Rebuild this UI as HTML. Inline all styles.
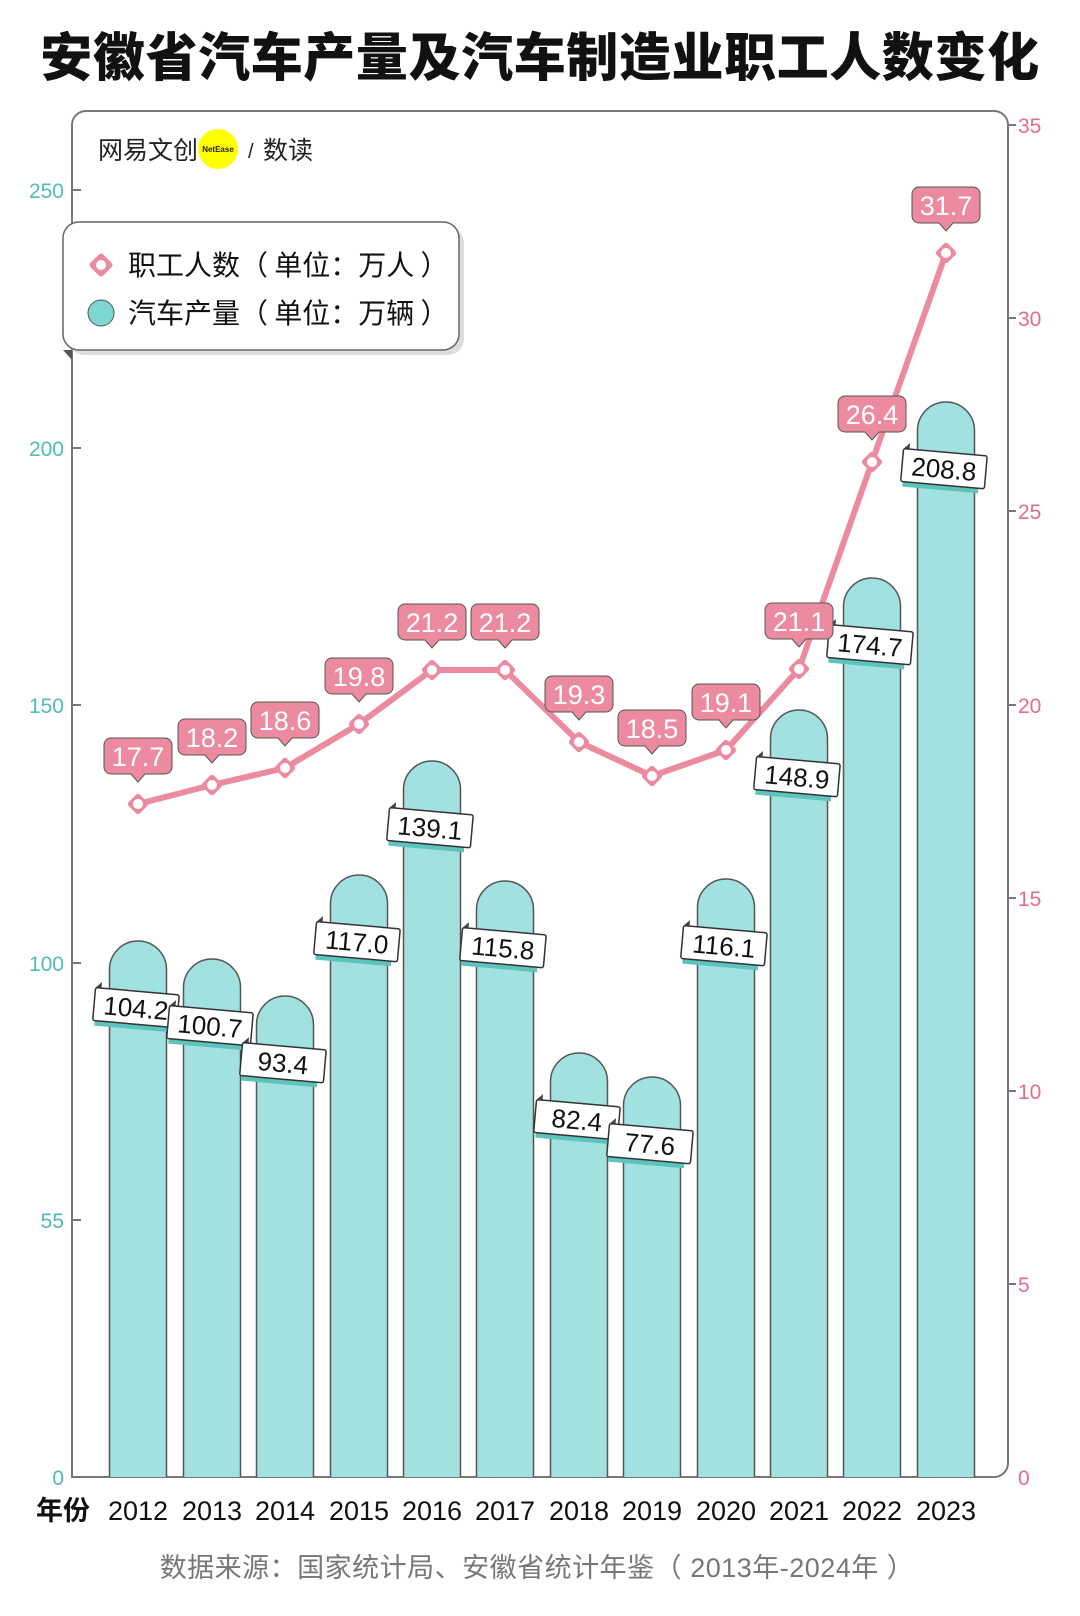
<!DOCTYPE html>
<html><head><meta charset="utf-8"><style>
body{margin:0;background:#fff;}
svg{display:block;font-family:"Liberation Sans","Noto Sans CJK SC",sans-serif;}
</style></head><body>
<svg width="1080" height="1616" viewBox="0 0 1080 1616" xmlns="http://www.w3.org/2000/svg">
<text x="540" y="76" text-anchor="middle" font-size="52" font-weight="900" fill="#111" letter-spacing="0.6" font-family="Noto Sans CJK SC, sans-serif">安徽省汽车产量及汽车制造业职工人数变化</text>
<path d="M72,1477 V125 A14,14 0 0 1 86,111 H994 A14,14 0 0 1 1008,125 V1463 A14,14 0 0 1 994,1477 Z" fill="none" stroke="#777" stroke-width="2"/>
<g stroke="#777" stroke-width="2">
<line x1="72" y1="190" x2="81" y2="190"/><line x1="72" y1="448" x2="81" y2="448"/><line x1="72" y1="705" x2="81" y2="705"/><line x1="72" y1="963" x2="81" y2="963"/><line x1="72" y1="1220" x2="81" y2="1220"/>
<line x1="1008" y1="125" x2="1016" y2="125"/><line x1="1008" y1="318" x2="1016" y2="318"/><line x1="1008" y1="511" x2="1016" y2="511"/><line x1="1008" y1="705" x2="1016" y2="705"/><line x1="1008" y1="898" x2="1016" y2="898"/><line x1="1008" y1="1091" x2="1016" y2="1091"/><line x1="1008" y1="1284" x2="1016" y2="1284"/>
</g>
<g fill="#4dbdb5" font-size="21" text-anchor="end">
<text x="64" y="198">250</text><text x="64" y="456">200</text><text x="64" y="713">150</text><text x="64" y="971">100</text><text x="64" y="1228">55</text><text x="64" y="1485">0</text>
</g>
<g fill="#e46c8b" font-size="21">
<text x="1018" y="133">35</text><text x="1018" y="326">30</text><text x="1018" y="519">25</text><text x="1018" y="713">20</text><text x="1018" y="906">15</text><text x="1018" y="1099">10</text><text x="1018" y="1292">5</text><text x="1018" y="1485">0</text>
</g>
<text x="98" y="159" font-size="25" fill="#222" font-family="Noto Sans CJK SC, sans-serif">网易文创</text>
<circle cx="218" cy="149" r="20" fill="#ffff00"/>
<text x="218" y="152" font-size="8" text-anchor="middle" fill="#222" font-weight="bold">NetEase</text>
<text x="248" y="158" font-size="20" fill="#222">/</text>
<text x="263" y="159" font-size="25" fill="#222" font-family="Noto Sans CJK SC, sans-serif">数读</text>
<g fill="#a1e1df" stroke="#555" stroke-width="1.5">
<path d="M109.5,1477 V969.5 A28.5,28.5 0 0 1 166.5,969.5 V1477"/>
<path d="M183.5,1477 V987.5 A28.5,28.5 0 0 1 240.5,987.5 V1477"/>
<path d="M256.5,1477 V1024.5 A28.5,28.5 0 0 1 313.5,1024.5 V1477"/>
<path d="M330.5,1477 V903.5 A28.5,28.5 0 0 1 387.5,903.5 V1477"/>
<path d="M403.5,1477 V789.5 A28.5,28.5 0 0 1 460.5,789.5 V1477"/>
<path d="M476.5,1477 V909.5 A28.5,28.5 0 0 1 533.5,909.5 V1477"/>
<path d="M550.5,1477 V1081.5 A28.5,28.5 0 0 1 607.5,1081.5 V1477"/>
<path d="M623.5,1477 V1105.5 A28.5,28.5 0 0 1 680.5,1105.5 V1477"/>
<path d="M697.5,1477 V907.5 A28.5,28.5 0 0 1 754.5,907.5 V1477"/>
<path d="M770.5,1477 V738.5 A28.5,28.5 0 0 1 827.5,738.5 V1477"/>
<path d="M843.5,1477 V606.5 A28.5,28.5 0 0 1 900.5,606.5 V1477"/>
<path d="M917.5,1477 V430.5 A28.5,28.5 0 0 1 974.5,430.5 V1477"/>
</g>
<defs>
<g id="bl"><path d="M-40,-16 L-34,-22 L-34,-16 Z" fill="#444"/><rect x="-38" y="16" width="76" height="6" fill="#5cc4bd"/><rect x="-40" y="-16" width="84" height="33" fill="#fff" stroke="#333" stroke-width="1.5" rx="2"/></g>
</defs>
<g font-size="26" text-anchor="middle" fill="#111">
<g transform="translate(134,1007) rotate(5)"><use href="#bl"/><text x="2" y="10">104.2</text></g>
<g transform="translate(208,1025) rotate(5)"><use href="#bl"/><text x="2" y="10">100.7</text></g>
<g transform="translate(281,1062) rotate(5)"><use href="#bl"/><text x="2" y="10">93.4</text></g>
<g transform="translate(355,941) rotate(5)"><use href="#bl"/><text x="2" y="10">117.0</text></g>
<g transform="translate(428,827) rotate(5)"><use href="#bl"/><text x="2" y="10">139.1</text></g>
<g transform="translate(501,947) rotate(5)"><use href="#bl"/><text x="2" y="10">115.8</text></g>
<g transform="translate(575,1119) rotate(5)"><use href="#bl"/><text x="2" y="10">82.4</text></g>
<g transform="translate(648,1143) rotate(5)"><use href="#bl"/><text x="2" y="10">77.6</text></g>
<g transform="translate(722,945) rotate(5)"><use href="#bl"/><text x="2" y="10">116.1</text></g>
<g transform="translate(795,776) rotate(5)"><use href="#bl"/><text x="2" y="10">148.9</text></g>
<g transform="translate(868,644) rotate(5)"><use href="#bl"/><text x="2" y="10">174.7</text></g>
<g transform="translate(942,468) rotate(5)"><use href="#bl"/><text x="2" y="10">208.8</text></g>
</g>
<polyline points="138,804 212,785 285,768 359,724 432,670 505,670 579,742 652,776 726,750 799,669 872,462 946,253" fill="none" stroke="#ec8aa0" stroke-width="6" stroke-linejoin="round"/>
<defs>
<g id="mk"><rect x="-8" y="-8" width="16" height="16" rx="3" fill="#ec8aa0" transform="rotate(45)"/><circle r="5" fill="#fff"/></g>
<g id="pl"><path d="M-27,-66 H27 A7,7 0 0 1 34,-59 V-37 A7,7 0 0 1 27,-30 H7 L0,-22 L-7,-30 H-27 A7,7 0 0 1 -34,-37 V-59 A7,7 0 0 1 -27,-66 Z" fill="#ec8aa0" stroke="#555" stroke-width="1"/></g>
</defs>
<g font-size="27" text-anchor="middle" fill="#fff">
<g transform="translate(138,804)"><use href="#pl"/><use href="#mk"/><text y="-38">17.7</text></g>
<g transform="translate(212,785)"><use href="#pl"/><use href="#mk"/><text y="-38">18.2</text></g>
<g transform="translate(285,768)"><use href="#pl"/><use href="#mk"/><text y="-38">18.6</text></g>
<g transform="translate(359,724)"><use href="#pl"/><use href="#mk"/><text y="-38">19.8</text></g>
<g transform="translate(432,670)"><use href="#pl"/><use href="#mk"/><text y="-38">21.2</text></g>
<g transform="translate(505,670)"><use href="#pl"/><use href="#mk"/><text y="-38">21.2</text></g>
<g transform="translate(579,742)"><use href="#pl"/><use href="#mk"/><text y="-38">19.3</text></g>
<g transform="translate(652,776)"><use href="#pl"/><use href="#mk"/><text y="-38">18.5</text></g>
<g transform="translate(726,750)"><use href="#pl"/><use href="#mk"/><text y="-38">19.1</text></g>
<g transform="translate(799,669)"><use href="#pl"/><use href="#mk"/><text y="-38">21.1</text></g>
<g transform="translate(872,462)"><use href="#pl"/><use href="#mk"/><text y="-38">26.4</text></g>
<g transform="translate(946,253)"><use href="#pl"/><use href="#mk"/><text y="-38">31.7</text></g>
</g>
<rect x="68" y="227" width="396" height="128" rx="16" fill="#ddd"/>
<path d="M63,350 L72,360 L72,350 Z" fill="#555"/>
<rect x="63" y="222" width="396" height="128" rx="16" fill="#fff" stroke="#666" stroke-width="1.5"/>
<g transform="translate(101,265)"><rect x="-9" y="-9" width="18" height="18" rx="3" fill="#ec8aa0" transform="rotate(45)"/><circle r="5" fill="#fff"/></g>
<circle cx="101" cy="313" r="13" fill="#7ed6d1" stroke="#555" stroke-width="1"/>
<g font-size="28" fill="#111" font-family="Noto Sans CJK SC, sans-serif">
<text x="128" y="275">职工人数（ 单位：万人 ）</text>
<text x="128" y="323">汽车产量（ 单位：万辆 ）</text>
</g>
<g font-size="27" fill="#111" text-anchor="middle">
<text x="63" y="1520" font-family="Noto Sans CJK SC, sans-serif" font-weight="bold">年份</text>
<text x="138" y="1520">2012</text><text x="212" y="1520">2013</text><text x="285" y="1520">2014</text><text x="359" y="1520">2015</text><text x="432" y="1520">2016</text><text x="505" y="1520">2017</text><text x="579" y="1520">2018</text><text x="652" y="1520">2019</text><text x="726" y="1520">2020</text><text x="799" y="1520">2021</text><text x="872" y="1520">2022</text><text x="946" y="1520">2023</text>
</g>
<text x="537" y="1577" font-size="27" fill="#777" text-anchor="middle" letter-spacing="0.5">数据来源：国家统计局、安徽省统计年鉴（ 2013年-2024年 ）</text>
</svg>
</body></html>
